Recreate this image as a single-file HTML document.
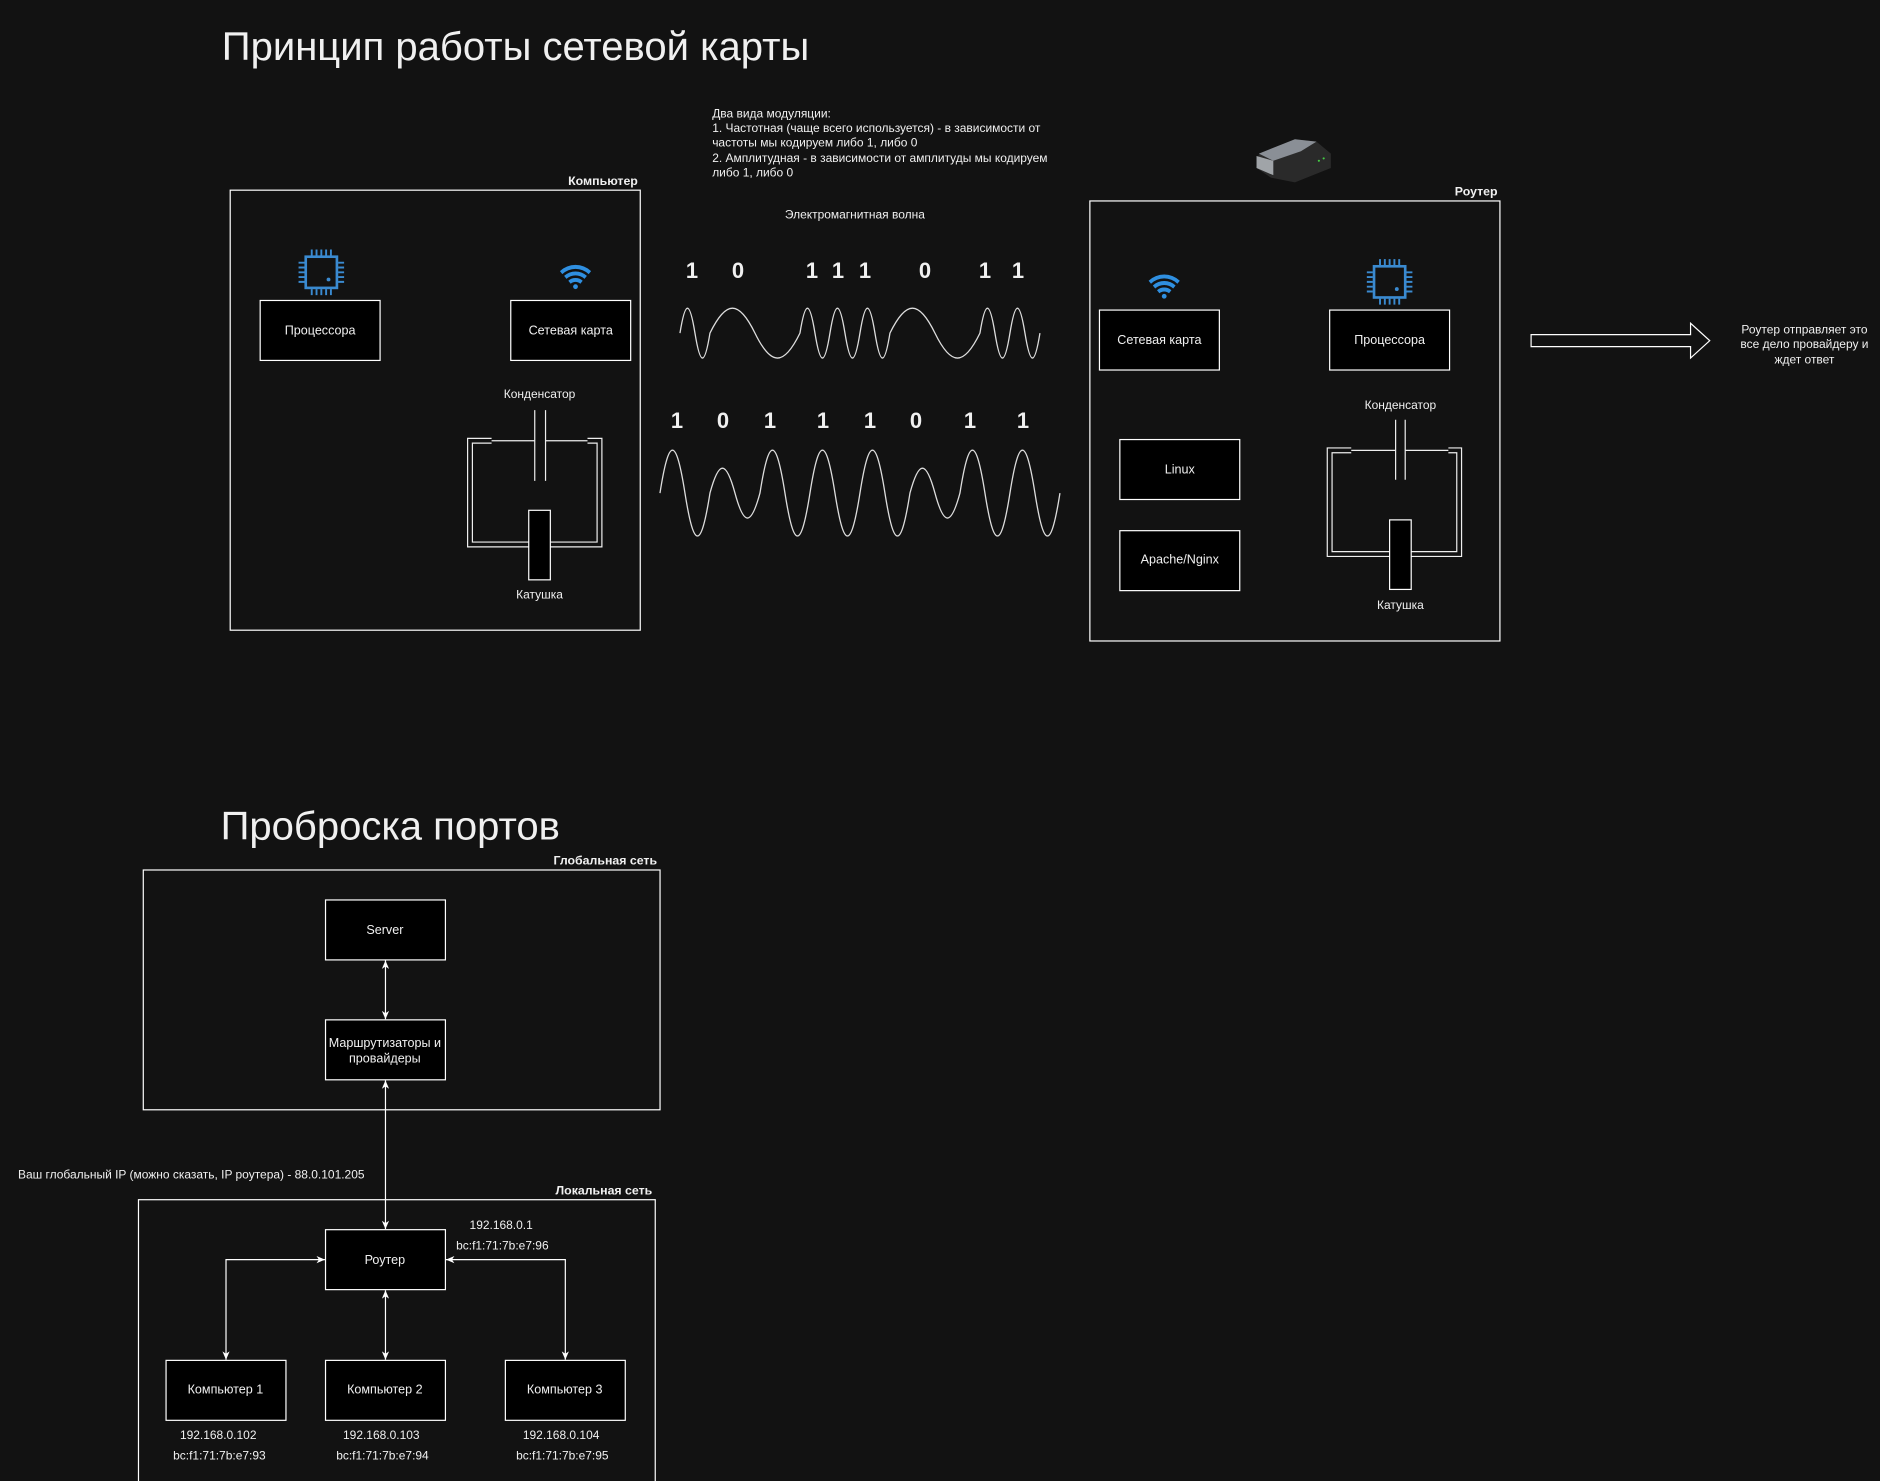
<!DOCTYPE html>
<html><head><meta charset="utf-8"><style>
html,body{margin:0;padding:0;background:#121212;}
svg{display:block;}
text{font-family:"Liberation Sans","DejaVu Sans",sans-serif;fill:#f0f0f0;}
</style></head><body>
<svg width="1880" height="1481" viewBox="0 0 1568 1235" xmlns="http://www.w3.org/2000/svg">
<defs>
<marker id="ar" markerWidth="8" markerHeight="8" refX="7" refY="4" orient="auto-start-reverse" markerUnits="userSpaceOnUse"><path d="M0,1 L7,4 L0,7 L2,4 Z" fill="#fff"/></marker>
<g id="cpu" fill="none" stroke="#3a8ad0" stroke-width="2.2">
<rect x="6" y="6" width="26" height="26"/>
<circle cx="25" cy="25" r="1.6" fill="#3a8ad0" stroke="none"/>
<path d="M11,0v5M15,0v5M19,0v5M23,0v5M27,0v5M11,33v5M15,33v5M19,33v5M23,33v5M27,33v5M0,11h5M0,15h5M0,19h5M0,23h5M0,27h5M33,11h5M33,15h5M33,19h5M33,23h5M33,27h5" stroke-width="1.6"/>
</g>
<g id="wifi" fill="#2f8fe0">
<path d="M-13,-4 A19,19 0 0 1 13,-4 L11,-1.5 A16,16 0 0 0 -11,-1.5Z"/>
<path d="M-9.5,0 A14,14 0 0 1 9.5,0 L7.5,2.5 A11,11 0 0 0 -7.5,2.5Z"/>
<path d="M-6,4 A9,9 0 0 1 6,4 L4,6.5 A6,6 0 0 0 -4,6.5Z"/>
<circle cx="0" cy="9" r="2"/>
</g>
</defs>
<rect width="1568" height="1235" fill="#121212"/>

<text x="185" y="50" font-size="33.4">Принцип работы сетевой карты</text>

<!-- Computer -->
<rect x="192" y="158.5" width="342" height="367" fill="none" stroke="#fff"/>
<text x="532" y="154" font-size="10.3" font-weight="bold" text-anchor="end">Компьютер</text>
<use href="#cpu" x="249" y="208"/>
<rect x="217" y="250.5" width="100" height="50" fill="#000" stroke="#fff"/>
<text x="267" y="279" font-size="10.5" text-anchor="middle">Процессора</text>
<use href="#wifi" x="480" y="230"/>
<rect x="426" y="250.5" width="100" height="50" fill="#000" stroke="#fff"/>
<text x="476" y="279" font-size="10.5" text-anchor="middle">Сетевая карта</text>
<text x="450" y="332" font-size="10" text-anchor="middle">Конденсатор</text>
<g fill="none" stroke="#eee" stroke-width="1">
<path d="M446,342v59M455,342v59"/>
<path d="M410,365.5h-20v90.5h51M459,456h43v-90.5h-12"/>
<path d="M410,369.5h-16v82.5h47M459,452h39v-82.5h-8"/>
<path d="M410,367.5h36M455,367.5h35"/>
</g>
<rect x="441" y="425.5" width="18" height="58" fill="#000" stroke="#fff"/>
<text x="450" y="499" font-size="10" text-anchor="middle">Катушка</text>

<!-- modulation text -->
<g font-size="10">
<text x="594" y="98">Два вида модуляции:</text>
<text x="594" y="110">1. Частотная (чаще всего используется) - в зависимости от</text>
<text x="594" y="122">частоты мы кодируем либо 1, либо 0</text>
<text x="594" y="135">2. Амплитудная - в зависимости от амплитуды мы кодируем</text>
<text x="594" y="147">либо 1, либо 0</text>
</g>
<text x="713" y="182" font-size="10" text-anchor="middle">Электромагнитная волна</text>

<g transform="scale(0.834)">
<g font-size="22" font-weight="bold" text-anchor="middle">
<text x="692" y="278">1</text><text x="738" y="278">0</text><text x="812" y="278">1</text><text x="838" y="278">1</text><text x="865" y="278">1</text><text x="925" y="278">0</text><text x="985" y="278">1</text><text x="1018" y="278">1</text>
<text x="677" y="428">1</text><text x="723" y="428">0</text><text x="770" y="428">1</text><text x="823" y="428">1</text><text x="870" y="428">1</text><text x="916" y="428">0</text><text x="970" y="428">1</text><text x="1023" y="428">1</text>
</g>
<g fill="none" stroke="#ddd" stroke-width="1.3">
<path d="M680,333
c5.4,-33.25 9.6,-33.25 15,0 c5.4,33.25 9.6,33.25 15,0
c16.2,-33.25 28.8,-33.25 45,0 c16.2,33.25 28.8,33.25 45,0
c5.4,-33.25 9.6,-33.25 15,0 c5.4,33.25 9.6,33.25 15,0
c5.4,-33.25 9.6,-33.25 15,0 c5.4,33.25 9.6,33.25 15,0
c5.4,-33.25 9.6,-33.25 15,0 c5.4,33.25 9.6,33.25 15,0
c16.2,-33.25 28.8,-33.25 45,0 c16.2,33.25 28.8,33.25 45,0
c5.4,-33.25 9.6,-33.25 15,0 c5.4,33.25 9.6,33.25 15,0
c5.4,-33.25 9.6,-33.25 15,0 c5.4,33.25 9.6,33.25 15,0"/>
<path d="M660,493
c9,-57.2 16,-57.2 25,0 c9,57.2 16,57.2 25,0
c9,-33.25 16,-33.25 25,0 c9,33.25 16,33.25 25,0
c9,-57.2 16,-57.2 25,0 c9,57.2 16,57.2 25,0
c9,-57.2 16,-57.2 25,0 c9,57.2 16,57.2 25,0
c9,-57.2 16,-57.2 25,0 c9,57.2 16,57.2 25,0
c9,-33.25 16,-33.25 25,0 c9,33.25 16,33.25 25,0
c9,-57.2 16,-57.2 25,0 c9,57.2 16,57.2 25,0
c9,-57.2 16,-57.2 25,0 c9,57.2 16,57.2 25,0"/>
</g>
</g>

<!-- router device image -->
<g>
<path d="M1050,128 L1080,116 L1098,118 L1110,128 L1110,140 L1080,152 L1060,148 L1048,140 Z" fill="#2a2a2a"/>
<path d="M1050,128 L1080,116 L1098,118 L1085,126 L1062,134 Z" fill="#8a8f96"/>
<path d="M1048,130 L1062,134 L1062,146 L1048,140 Z" fill="#a0a4a8"/>
<circle cx="1100" cy="134" r="0.9" fill="#4c4"/><circle cx="1104" cy="132" r="0.9" fill="#4c4"/>
</g>

<!-- Router box -->
<rect x="909" y="167.5" width="342" height="367" fill="none" stroke="#fff"/>
<text x="1249" y="163" font-size="10.3" font-weight="bold" text-anchor="end">Роутер</text>
<use href="#wifi" x="971" y="238"/>
<rect x="917" y="258.5" width="100" height="50" fill="#000" stroke="#fff"/>
<text x="967" y="287" font-size="10.5" text-anchor="middle">Сетевая карта</text>
<use href="#cpu" x="1140" y="216"/>
<rect x="1109" y="258.5" width="100" height="50" fill="#000" stroke="#fff"/>
<text x="1159" y="287" font-size="10.5" text-anchor="middle">Процессора</text>
<text x="1168" y="341" font-size="10" text-anchor="middle">Конденсатор</text>
<rect x="934" y="366.5" width="100" height="50" fill="#000" stroke="#fff"/>
<text x="984" y="395" font-size="10.5" text-anchor="middle">Linux</text>
<rect x="934" y="442.5" width="100" height="50" fill="#000" stroke="#fff"/>
<text x="984" y="470" font-size="10.5" text-anchor="middle">Apache/Nginx</text>
<g fill="none" stroke="#eee" stroke-width="1">
<path d="M1164,350v50M1172,350v50"/>
<path d="M1127,373.5h-20v90.5h52M1177,464h42v-90.5h-11"/>
<path d="M1127,377.5h-16v82.5h48M1177,460h38v-82.5h-7"/>
<path d="M1127,375.5h37M1172,375.5h36"/>
</g>
<rect x="1159" y="433.5" width="18" height="58" fill="#000" stroke="#fff"/>
<text x="1168" y="508" font-size="10" text-anchor="middle">Катушка</text>

<!-- big arrow -->
<path d="M1277,279 H1410 V269.5 L1426,284 L1410,298.5 V289 H1277 Z" fill="none" stroke="#fff" stroke-width="1"/>
<g font-size="10" text-anchor="middle">
<text x="1505" y="278">Роутер отправляет это</text>
<text x="1505" y="290">все дело провайдеру и</text>
<text x="1505" y="303">ждет ответ</text>
</g>

<!-- Port forwarding -->
<text x="184" y="700" font-size="33.4">Проброска портов</text>
<rect x="119.5" y="725.5" width="431" height="200" fill="none" stroke="#fff"/>
<text x="548" y="721" font-size="10.3" font-weight="bold" text-anchor="end">Глобальная сеть</text>
<rect x="271.5" y="750.5" width="100" height="50" fill="#000" stroke="#fff"/>
<text x="321" y="779" font-size="10.5" text-anchor="middle">Server</text>
<rect x="271.5" y="850.5" width="100" height="50" fill="#000" stroke="#fff"/>
<text x="321" y="873" font-size="10.5" text-anchor="middle">Маршрутизаторы и</text>
<text x="321" y="886" font-size="10.5" text-anchor="middle">провайдеры</text>
<g stroke="#fff" fill="none" stroke-width="1">
<path d="M321.5,801 V850" marker-start="url(#ar)" marker-end="url(#ar)"/>
<path d="M321.5,901 V1025" marker-start="url(#ar)" marker-end="url(#ar)"/>
<path d="M271,1050.5 H188.5 V1134" marker-start="url(#ar)" marker-end="url(#ar)"/>
<path d="M321.5,1076 V1134" marker-start="url(#ar)" marker-end="url(#ar)"/>
<path d="M372,1050.5 H471.5 V1134" marker-start="url(#ar)" marker-end="url(#ar)"/>
</g>
<text x="15" y="983" font-size="10">Ваш глобальный IP (можно сказать, IP роутера) - 88.0.101.205</text>
<rect x="115.5" y="1000.5" width="431" height="240" fill="none" stroke="#fff"/>
<text x="544" y="996" font-size="10.3" font-weight="bold" text-anchor="end">Локальная сеть</text>
<rect x="271.5" y="1025.5" width="100" height="50" fill="#000" stroke="#fff"/>
<text x="321" y="1054" font-size="10.5" text-anchor="middle">Роутер</text>
<text x="418" y="1025" font-size="10" text-anchor="middle">192.168.0.1</text>
<text x="419" y="1042" font-size="10" text-anchor="middle">bc:f1:71:7b:e7:96</text>
<rect x="138.5" y="1134.5" width="100" height="50" fill="#000" stroke="#fff"/>
<text x="188" y="1162" font-size="10.5" text-anchor="middle">Компьютер 1</text>
<rect x="271.5" y="1134.5" width="100" height="50" fill="#000" stroke="#fff"/>
<text x="321" y="1162" font-size="10.5" text-anchor="middle">Компьютер 2</text>
<rect x="421.5" y="1134.5" width="100" height="50" fill="#000" stroke="#fff"/>
<text x="471" y="1162" font-size="10.5" text-anchor="middle">Компьютер 3</text>
<g font-size="10" text-anchor="middle">
<text x="182" y="1200">192.168.0.102</text><text x="183" y="1217">bc:f1:71:7b:e7:93</text>
<text x="318" y="1200">192.168.0.103</text><text x="319" y="1217">bc:f1:71:7b:e7:94</text>
<text x="468" y="1200">192.168.0.104</text><text x="469" y="1217">bc:f1:71:7b:e7:95</text>
</g>
</svg>
</body></html>
